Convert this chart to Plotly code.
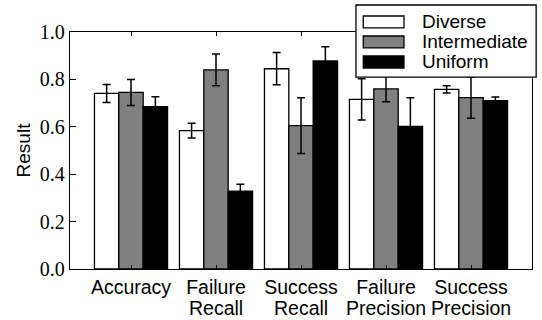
import plotly.graph_objects as go

categories = ["Accuracy", "Failure\nRecall", "Success\nRecall", "Failure\nPrecision", "Success\nPrecision"]
series_names = ["Diverse", "Intermediate", "Uniform"]
diverse = [0.741, 0.584, 0.845, 0.716, 0.758]
diverse_err = [0.038, 0.031, 0.068, 0.087, 0.015]
intermediate = [0.745, 0.840, 0.605, 0.760, 0.723]
intermediate_err = [0.055, 0.067, 0.118, 0.054, 0.087]
uniform = [0.685, 0.328, 0.878, 0.602, 0.710]
uniform_err = [0.042, 0.030, 0.060, 0.121, 0.016]
y_ticks = [0.0, 0.2, 0.4, 0.6, 0.8, 1.0]

colors = ["#ffffff", "#808080", "#000000"]
values = [diverse, intermediate, uniform]
errors = [diverse_err, intermediate_err, uniform_err]

xpos = list(range(len(categories)))
first_lines = [c.split("\n")[0] for c in categories]
second_lines = [c.split("\n")[1] if "\n" in c else "" for c in categories]

fig = go.Figure()
for name, vals, errs, col in zip(series_names, values, errors, colors):
    fig.add_trace(go.Bar(
        x=xpos, y=vals, name=name,
        marker=dict(color=col, line=dict(color="black", width=1.3)),
        error_y=dict(type="data", array=errs, visible=True, color="black",
                     thickness=1.5, width=4),
        showlegend=False, hoverinfo="skip",
    ))

SANS = "Liberation Sans"
SERIF = "Liberation Serif"
XFS = 19.5

fig.update_layout(
    width=542, height=320,
    margin=dict(l=70, r=10, t=32, b=51),
    paper_bgcolor="white", plot_bgcolor="white",
    barmode="group", bargap=0.14, bargroupgap=0,
    xaxis=dict(
        range=[-0.7176, 4.7176], automargin=False,
        tickmode="array", tickvals=xpos, ticktext=first_lines,
        tickfont=dict(family=SANS, size=XFS, color="black"),
        showline=True, linecolor="black", linewidth=1.3, mirror="ticks",
        ticks="inside", ticklen=4, tickwidth=1, tickcolor="black",
        showgrid=False, zeroline=False,
    ),
    yaxis=dict(
        range=[0, 1], automargin=False,
        tickmode="array", tickvals=y_ticks, ticktext=[f"{v:.1f}" for v in y_ticks],
        tickfont=dict(family=SERIF, size=20, color="black"),
        showline=True, linecolor="black", linewidth=1.3, mirror=True,
        ticks="inside", ticklen=6, tickwidth=1, tickcolor="black",
        showgrid=False, zeroline=False,
        title=dict(text="Result", font=dict(family=SANS, size=19, color="black"), standoff=4),
    ),
)

# second line of the category labels
for xv, txt in zip(xpos, second_lines):
    if txt:
        fig.add_annotation(x=xv, y=0, xref="x", yref="paper", text=txt, showarrow=False,
                           xanchor="center", yanchor="top", yshift=-26,
                           font=dict(family=SANS, size=XFS, color="black"))

# Legend drawn manually to match wide rectangular swatches
lx0, lx1 = 0.619, 1.009
ly1 = 1.114
fig.add_shape(type="rect", xref="paper", yref="paper", x0=lx0, x1=lx1, y0=ly1 - 0.304, y1=ly1,
              fillcolor="white", line=dict(color="black", width=1.3), layer="above")
for i, (name, col) in enumerate(zip(series_names, colors)):
    yc = ly1 - 0.0717 - i * 0.0844
    fig.add_shape(type="rect", xref="paper", yref="paper",
                  x0=lx0 + 0.0158, x1=lx0 + 0.1039, y0=yc - 0.0253, y1=yc + 0.0253,
                  fillcolor=col, line=dict(color="black", width=1.3), layer="above")
    fig.add_annotation(x=lx0 + 0.1385, y=yc, xref="paper", yref="paper", text=name,
                       showarrow=False, xanchor="left", yanchor="middle",
                       font=dict(family=SANS, size=19, color="black"))

fig.write_html("out.html", config={"displayModeBar": False},
               post_script="document.body.style.margin='0';")
